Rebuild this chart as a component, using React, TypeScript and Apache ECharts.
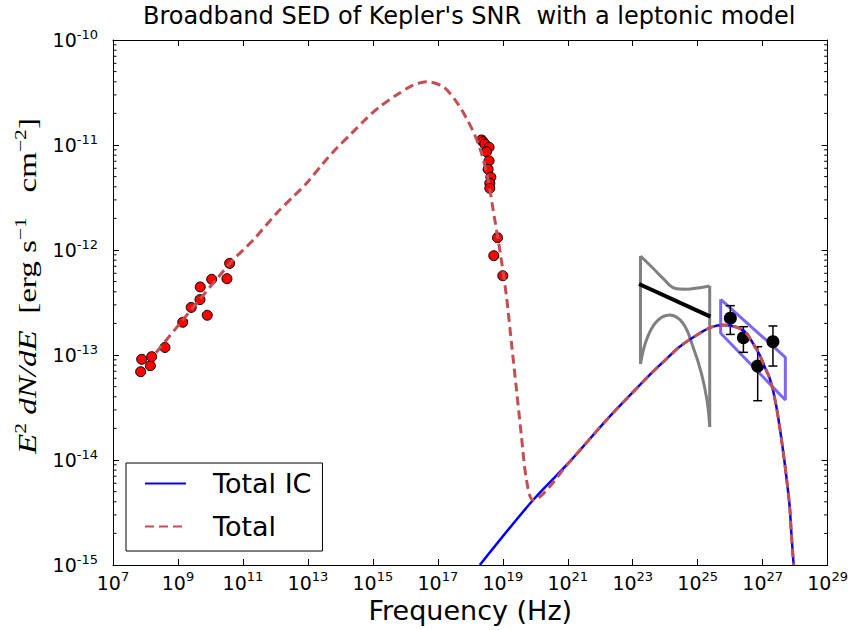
import React, { useEffect, useRef } from 'react';
import * as echarts from 'echarts';

// ---- axis ranges ----
const X_MIN = 1e7;
const X_MAX = 1e29;
const Y_MIN = 1e-15;
const Y_MAX = 1e-10;
const xTickExpMin = 7;
const xTickExpMax = 29;
const xTickExpStep = 2;
const yTickExpMin = -15;
const yTickExpMax = -10;
const yMinorMultipliers = [2, 3, 4, 5, 6, 7, 8, 9];
const yMinorDecades = [1e-15, 1e-14, 1e-13, 1e-12, 1e-11];

// ---- radio data (red) ----
const radioFreq = [7.11e7, 7.64e7, 1.41e8, 1.55e8, 3.98e8, 1.40e9, 2.56e9, 4.75e9, 4.85e9, 7.98e9, 1.09e10, 3.22e10, 3.90e10];
const radioFlux = [6.93e-14, 9.10e-14, 7.91e-14, 9.64e-14, 1.18e-13, 2.05e-13, 2.84e-13, 3.37e-13, 4.45e-13, 2.39e-13, 5.26e-13, 5.33e-13, 7.46e-13];

// ---- X-ray data (red) ----
const xrayFreq = [2.21e18, 2.48e18, 2.79e18, 3.78e18, 3.15e18, 3.78e18, 3.53e18, 4.28e18, 3.98e18, 3.98e18, 6.87e18, 5.28e18, 1.00e19];
const xrayFlux = [1.117e-11, 1.074e-11, 1.023e-11, 9.51e-12, 8.63e-12, 7.08e-12, 5.87e-12, 4.93e-12, 4.32e-12, 3.87e-12, 1.31e-12, 8.83e-13, 5.69e-13];

// ---- TeV data (black) ----
const hessFreq = [1.01e26, 2.55e26, 7.02e26, 2.07e27];
const hessFlux = [2.24e-13, 1.46e-13, 7.85e-14, 1.34e-13];
const hessFluxLo = [1.57e-13, 1.06e-13, 3.67e-14, 7.85e-14];
const hessFluxHi = [2.95e-13, 1.86e-13, 1.20e-13, 1.89e-13];

// ---- model: Total IC ----
const icFreq = [1.96e18, 8.55e19, 1.15e21, 1.55e22, 3.33e23, 1.0e24, 2.79e24, 1.15e25, 2.51e25, 6.0e25, 9.66e25, 1.96e26, 3.15e26, 5.04e26, 8.09e26, 1.15e27, 1.64e27, 2.07e27, 2.64e27, 3.33e27, 4.22e27, 5.36e27, 6.78e27, 7.64e27, 9.0e27];
const icFlux = [1.0e-15, 4.16e-15, 9.64e-15, 2.40e-14, 6.46e-14, 8.95e-14, 1.20e-13, 1.61e-13, 1.83e-13, 1.93e-13, 1.91e-13, 1.79e-13, 1.61e-13, 1.29e-13, 1.00e-13, 7.74e-14, 6.0e-14, 4.65e-14, 3.22e-14, 2.07e-14, 1.24e-14, 6.93e-15, 3.60e-15, 2.0e-15, 1.0e-15];

// ---- model: Total, synchrotron-dominated part (above that it equals Total IC) ----
const totalLowFreq = [2.10e8, 3.98e10, 2.07e11, 1.09e12, 3.53e12, 9.12e12, 2.96e13, 7.64e13, 2.21e14, 6.40e14, 1.64e15, 5.36e15, 1.74e16, 4.49e16, 1.46e17, 3.76e17, 7.64e17, 1.37e18, 2.21e18, 3.53e18, 5.04e18, 8.09e18, 1.30e19, 1.85e19, 2.64e19, 3.76e19, 5.36e19];
const totalLowFlux = [1.05e-13, 7.46e-13, 1.245e-12, 2.24e-12, 3.22e-12, 4.32e-12, 6.70e-12, 9.31e-12, 1.29e-11, 1.795e-11, 2.32e-11, 2.99e-11, 3.72e-11, 4.01e-11, 3.59e-11, 2.58e-11, 1.795e-11, 1.245e-11, 8.34e-12, 4.65e-12, 2.40e-12, 1.0e-12, 3.59e-13, 1.29e-13, 4.65e-14, 1.67e-14, 6.46e-15];

// ---- GeV butterfly (grey) and power law (black) ----
const fermiUpFreq = [1.73e23, 4.22e23, 8.55e23, 1.96e24, 4.49e24, 1.15e25, 2.34e25];
const fermiUpFlux = [8.77e-13, 6.70e-13, 5.37e-13, 4.32e-13, 4.23e-13, 4.38e-13, 4.54e-13];
const fermiLoFreq = [1.73e23, 2.64e23, 5.36e23, 1.37e24, 3.53e24, 7.16e24, 1.30e25, 1.93e25, 2.34e25];
const fermiLoFlux = [8.20e-14, 1.39e-13, 2.07e-13, 2.40e-13, 2.00e-13, 1.20e-13, 6.70e-14, 3.72e-14, 2.07e-14];
const fermiFitFreq = [1.56e23, 2.46e25];
const fermiFitFlux = [4.74e-13, 2.32e-13];

// ---- TeV butterfly (purple) ----
const hessBowUpFreq = [5.10e25, 4.99e27];
const hessBowUpFlux = [3.39e-13, 9.51e-14];
const hessBowLoFreq = [5.10e25, 4.99e27];
const hessBowLoFlux = [1.61e-13, 3.73e-14];

const zip = (a: number[], b: number[]) => a.map((v, i) => [v, b[i]]);

const FONT = 'DejaVu Sans';
const SERIF = 'Liberation Serif';

export default function App() {
  const ref = useRef<HTMLDivElement>(null);

  useEffect(() => {
    if (!ref.current) return;
    const chart = echarts.init(ref.current, null, { renderer: 'svg' });

    const icData = zip(icFreq, icFlux);
    const totalData = zip(totalLowFreq, totalLowFlux).concat(icData.slice(1));
    const fermiUp = zip(fermiUpFreq, fermiUpFlux);
    const fermiLo = zip(fermiLoFreq, fermiLoFlux);
    const fermiLeft = [fermiUp[0], fermiLo[0]];
    const fermiRight = [fermiUp[fermiUp.length - 1], fermiLo[fermiLo.length - 1]];
    const hUp = zip(hessBowUpFreq, hessBowUpFlux);
    const hLo = zip(hessBowLoFreq, hessBowLoFlux);
    const hessPoly = [hUp[0], hUp[1], hLo[1], hLo[0], hUp[0]];
    const minorVals: number[][] = [];
    yMinorDecades.forEach((d) => yMinorMultipliers.forEach((m) => minorVals.push([X_MIN, m * d])));

    const tickRich = {
      b: { fontSize: 19, fontFamily: FONT, color: '#000', lineHeight: 25 },
      s: { fontSize: 13, fontFamily: FONT, color: '#000', verticalAlign: 'top', lineHeight: 13 },
    };

    const option: any = {
      animation: false,
      backgroundColor: '#fff',
      title: {
        text: "Broadband SED of Kepler's SNR  with a leptonic model",
        left: 143,
        top: 4,
        padding: 0,
        textStyle: { fontFamily: FONT, fontSize: 24, fontWeight: 'normal', color: '#000' },
      },
      legend: {
        data: ['Total IC', 'Total'],
        orient: 'vertical',
        left: 126,
        top: 463,
        padding: [7, 11, 11, 18],
        itemWidth: 41,
        itemHeight: 14,
        itemGap: 16,
        borderColor: '#000',
        borderWidth: 1,
        borderRadius: 0,
        backgroundColor: '#fff',
        itemStyle: { opacity: 0 },
        textStyle: { fontFamily: FONT, fontSize: 27, color: '#000', padding: [0, 0, 0, 22] },
      },
      graphic: [
        {
          type: 'text',
          x: 27,
          y: 286,
          rotation: Math.PI / 2,
          scaleX: 1.27,
          silent: true,
          style: {
            text: '{i|E}{s|2}{r| }{i|dN/dE}{r|  [erg s}{s|−1}{r|   cm}{s|−2}{r|]}',
            align: 'center',
            verticalAlign: 'middle',
            fill: '#000',
            font: `26px "${SERIF}"`,
            rich: {
              i: { fontFamily: SERIF, fontStyle: 'italic', fontSize: 26, fill: '#000', lineHeight: 30 },
              r: { fontFamily: SERIF, fontSize: 26, fill: '#000', lineHeight: 30 },
              s: { fontFamily: SERIF, fontSize: 17, fill: '#000', verticalAlign: 'top', lineHeight: 17 },
            },
          },
        },
      ],
      grid: { left: 113, right: 23, top: 40, bottom: 65, containLabel: false },
      xAxis: [
        { type: 'log', logBase: 10, min: X_MIN, max: X_MAX, show: false, gridIndex: 0 },
        {
          type: 'value', min: xTickExpMin, max: xTickExpMax, interval: xTickExpStep, position: 'bottom',
          axisLine: { show: true, onZero: false, lineStyle: { color: '#000', width: 1 } },
          axisTick: { show: true, inside: true, length: 6, lineStyle: { color: '#000' } },
          splitLine: { show: false },
          axisLabel: { show: true, margin: 5, formatter: (v: number) => `{b|10}{s|${v}}`, rich: tickRich },
          name: 'Frequency (Hz)', nameLocation: 'middle', nameGap: 29,
          nameTextStyle: { fontFamily: FONT, fontSize: 27, color: '#000' },
        },
        {
          type: 'value', min: xTickExpMin, max: xTickExpMax, interval: xTickExpStep, position: 'top',
          axisLine: { show: true, onZero: false, lineStyle: { color: '#000', width: 1 } },
          axisTick: { show: true, inside: true, length: 6, lineStyle: { color: '#000' } },
          splitLine: { show: false },
          axisLabel: { show: false },
        },
      ],
      yAxis: [
        { type: 'log', logBase: 10, min: Y_MIN, max: Y_MAX, show: false, gridIndex: 0 },
        {
          type: 'value', min: yTickExpMin, max: yTickExpMax, interval: 1, position: 'left',
          axisLine: { show: true, onZero: false, lineStyle: { color: '#000', width: 1 } },
          axisTick: { show: true, inside: true, length: 6, lineStyle: { color: '#000' } },
          splitLine: { show: false },
          axisLabel: { show: true, margin: 15, formatter: (v: number) => `{b|10}{s|${v}}`, rich: tickRich },
        },
        {
          type: 'value', min: yTickExpMin, max: yTickExpMax, interval: 1, position: 'right',
          axisLine: { show: true, onZero: false, lineStyle: { color: '#000', width: 1 } },
          axisTick: { show: true, inside: true, length: 6, lineStyle: { color: '#000' } },
          splitLine: { show: false },
          axisLabel: { show: false },
        },
      ],
      series: [
        {
          name: 'minor ticks', type: 'custom', xAxisIndex: 0, yAxisIndex: 0, silent: true,
          data: minorVals,
          renderItem: (_p: any, api: any) => {
            const pL = api.coord([X_MIN, api.value(1)]);
            const pR = api.coord([X_MAX, api.value(1)]);
            return {
              type: 'group',
              children: [
                { type: 'line', shape: { x1: pL[0], y1: pL[1], x2: pL[0] + 3.5, y2: pL[1] }, style: { stroke: '#000', lineWidth: 1 } },
                { type: 'line', shape: { x1: pR[0] - 3.5, y1: pR[1], x2: pR[0], y2: pR[1] }, style: { stroke: '#000', lineWidth: 1 } },
              ],
            };
          },
          z: 1,
        },
        {
          name: 'radio', type: 'scatter', xAxisIndex: 0, yAxisIndex: 0,
          data: zip(radioFreq, radioFlux), symbolSize: 10,
          itemStyle: { color: '#ff0000', borderColor: '#000', borderWidth: 1, opacity: 1 }, z: 2,
        },
        {
          name: 'xray', type: 'scatter', xAxisIndex: 0, yAxisIndex: 0,
          data: zip(xrayFreq, xrayFlux), symbolSize: 10,
          itemStyle: { color: '#ff0000', borderColor: '#000', borderWidth: 1, opacity: 1 }, z: 2,
        },
        {
          name: 'fermi up', type: 'line', xAxisIndex: 0, yAxisIndex: 0, data: fermiUp, smooth: 0.4,
          symbol: 'none', lineStyle: { color: '#808080', width: 3 }, z: 2, silent: true,
        },
        {
          name: 'fermi lo', type: 'line', xAxisIndex: 0, yAxisIndex: 0, data: fermiLo, smooth: 0.4,
          symbol: 'none', lineStyle: { color: '#808080', width: 3 }, z: 2, silent: true,
        },
        {
          name: 'fermi left', type: 'line', xAxisIndex: 0, yAxisIndex: 0, data: fermiLeft,
          symbol: 'none', lineStyle: { color: '#808080', width: 3 }, z: 2, silent: true,
        },
        {
          name: 'fermi right', type: 'line', xAxisIndex: 0, yAxisIndex: 0, data: fermiRight,
          symbol: 'none', lineStyle: { color: '#808080', width: 3 }, z: 2, silent: true,
        },
        {
          name: 'fermi fit', type: 'line', xAxisIndex: 0, yAxisIndex: 0, data: zip(fermiFitFreq, fermiFitFlux),
          symbol: 'none', lineStyle: { color: '#000', width: 4 }, z: 2, silent: true,
        },
        {
          name: 'hess bow', type: 'line', xAxisIndex: 0, yAxisIndex: 0, data: hessPoly,
          symbol: 'none', lineStyle: { color: '#7b68ee', width: 3 }, z: 2, silent: true,
        },
        {
          name: 'hess err', type: 'custom', xAxisIndex: 0, yAxisIndex: 0, silent: true,
          data: hessFreq.map((f, i) => [f, hessFluxLo[i], hessFluxHi[i]]),
          renderItem: (_p: any, api: any) => {
            const lo = api.coord([api.value(0), api.value(1)]);
            const hi = api.coord([api.value(0), api.value(2)]);
            const st = { stroke: '#000', lineWidth: 1.5 };
            return {
              type: 'group',
              children: [
                { type: 'line', shape: { x1: lo[0], y1: lo[1], x2: hi[0], y2: hi[1] }, style: st },
                { type: 'line', shape: { x1: lo[0] - 4.5, y1: lo[1], x2: lo[0] + 4.5, y2: lo[1] }, style: st },
                { type: 'line', shape: { x1: hi[0] - 4.5, y1: hi[1], x2: hi[0] + 4.5, y2: hi[1] }, style: st },
              ],
            };
          },
          z: 3,
        },
        {
          name: 'hess', type: 'scatter', xAxisIndex: 0, yAxisIndex: 0,
          data: zip(hessFreq, hessFlux), symbolSize: 13,
          itemStyle: { color: '#000', opacity: 1 }, z: 3,
        },
        {
          name: 'Total IC', type: 'line', xAxisIndex: 0, yAxisIndex: 0, data: icData, smooth: 0.3,
          symbol: 'none', showSymbol: false, lineStyle: { color: '#0000ff', width: 2.5 }, itemStyle: { color: '#0000ff' }, z: 4,
        },
        {
          name: 'Total', type: 'line', xAxisIndex: 0, yAxisIndex: 0, data: totalData, smooth: 0.3,
          symbol: 'none', showSymbol: false, lineStyle: { color: '#c44e52', width: 3, type: [9, 5] }, itemStyle: { color: '#c44e52' }, z: 5,
        },
      ],
    };

    chart.setOption(option);
    return () => chart.dispose();
  }, []);

  return (
    <div
      ref={ref}
      style={{ position: 'fixed', left: 0, top: 0, width: 851, height: 630, background: '#fff' }}
    />
  );
}
